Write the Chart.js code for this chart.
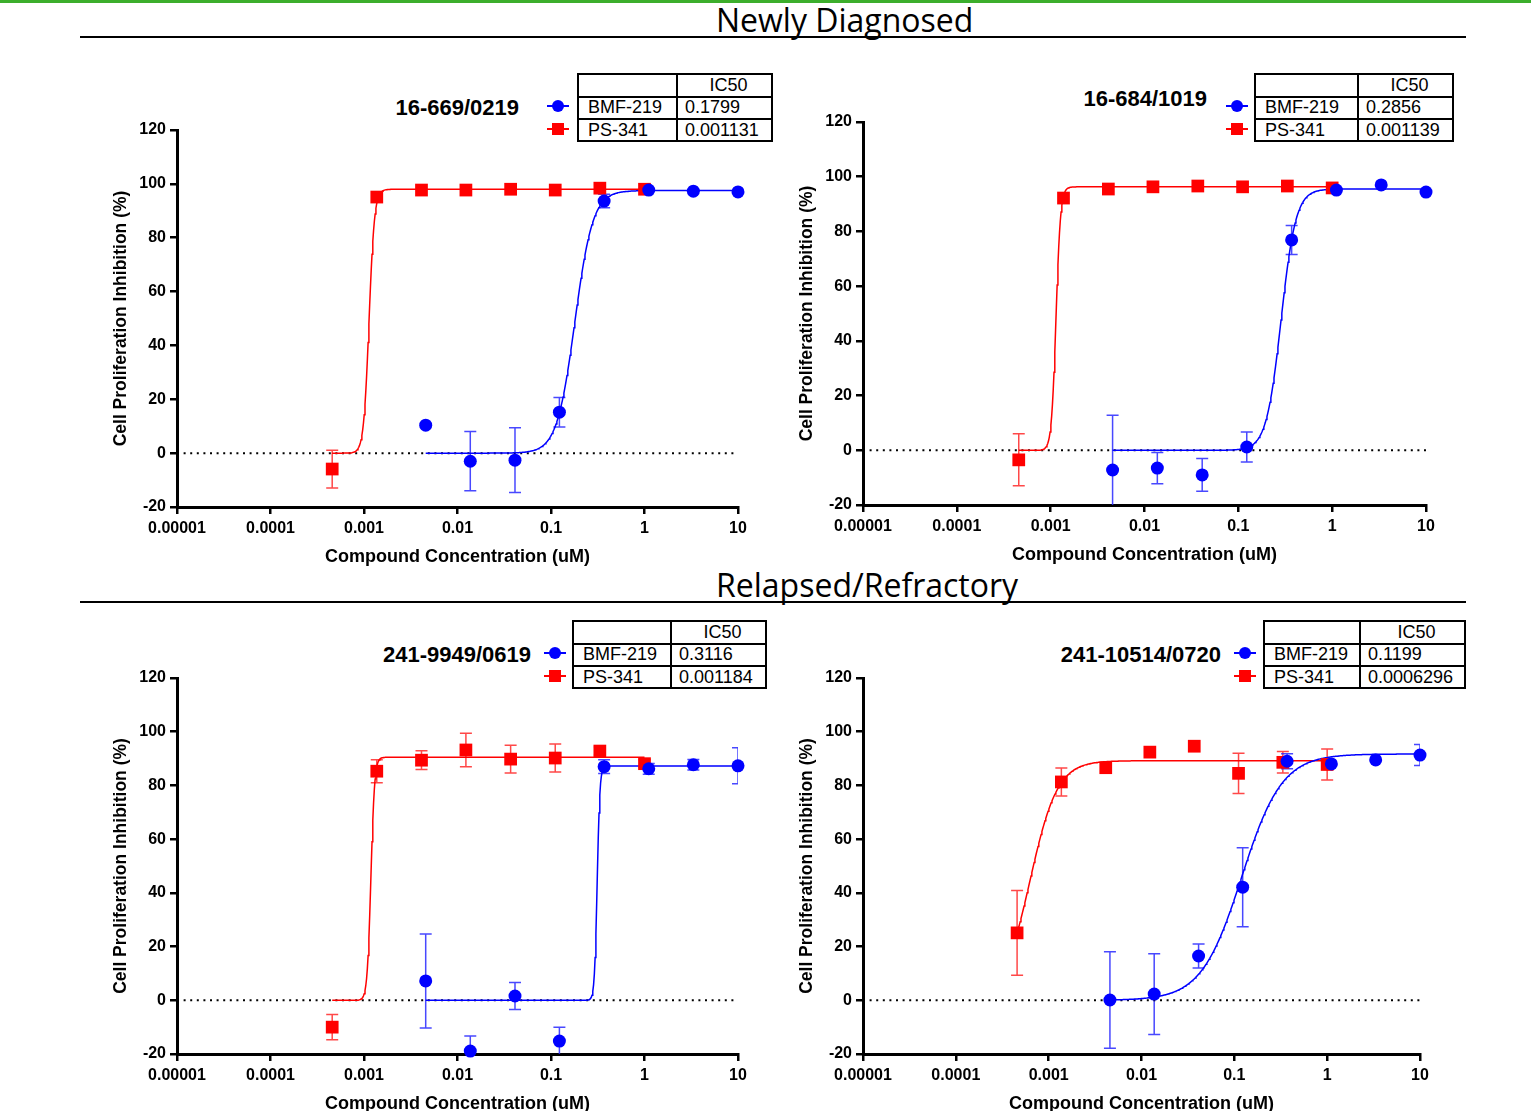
<!DOCTYPE html>
<html>
<head>
<meta charset="utf-8">
<script src="https://cdn.jsdelivr.net/npm/chart.js@4.4.1/dist/chart.umd.min.js"></script>
<style>
  html, body { margin:0; padding:0; background:#fff; }
  body { width:1531px; height:1111px; overflow:hidden; position:relative; font-family:"Liberation Sans", Arial, sans-serif; color:#000; }
  .greenbar { position:absolute; left:0; top:0; width:1531px; height:3px; background:#3cae2c; }
  .section { position:absolute; font-family:"Open Sans", "Noto Sans", sans-serif; font-size:32px; line-height:32px; white-space:nowrap; }
  .rule { position:absolute; height:2px; background:#000; }
  .ptitle { position:absolute; font-weight:bold; font-size:22px; line-height:22px; white-space:nowrap; text-align:right; width:260px; }
  canvas.panel { position:absolute; }
  .ic { position:absolute; border:2.5px solid #000; font-size:18px; box-sizing:border-box; }
  .ic .cell { position:absolute; line-height:20px; white-space:nowrap; }
  .ic .vl { position:absolute; top:0; bottom:0; width:1.5px; background:#000; }
  .ic .hl { position:absolute; left:0; right:0; height:1.5px; background:#000; }
  .lg { position:absolute; width:22px; height:12px; }
  .lg .ln { position:absolute; left:0; top:5px; width:22px; height:1.6px; }
  .lg .mk { position:absolute; left:5px; top:0; width:12px; height:12px; }
</style>
</head>
<body>
<div class="greenbar"></div>
<script>
// ---------------- DATA ----------------
const sections = ['Newly Diagnosed', 'Relapsed/Refractory'];
const sampleIds = ['16-669/0219', '16-684/1019', '241-9949/0619', '241-10514/0720'];
const compounds = ['BMF-219', 'PS-341'];
const ic50Header = 'IC50';
const bmfIC50Labels = ['0.1799', '0.2856', '0.3116', '0.1199'];
const psIC50Labels  = ['0.001131', '0.001139', '0.001184', '0.0006296'];

const xTickValues = [0.00001, 0.0001, 0.001, 0.01, 0.1, 1, 10];
const xTickLabels = ['0.00001', '0.0001', '0.001', '0.01', '0.1', '1', '10'];
const yMin = -20, yMax = 120, yStep = 20;
const xTitle = 'Compound Concentration (uM)';
const yTitle = 'Cell Proliferation Inhibition (%)';

// concentrations (uM)
const psConc  = [0.000457, 0.00137, 0.00412, 0.0123, 0.037, 0.111, 0.333, 1.0];
const bmfConc = [0.00457, 0.0137, 0.0412, 0.123, 0.37, 1.11, 3.33, 10.0];

// mean % inhibition and error (SD) per panel
const bmfMean1 = [10.4, -3.0, -2.6, 15.2, 93.6, 97.7, 97.3, 97.0];
const bmfErr1  = [0, 11, 12, 5.5, 2.5, 0, 0, 0];
const psMean1  = [-5.9, 95.1, 97.7, 97.7, 98.0, 97.7, 98.4, 98.0];
const psErr1   = [7, 0, 0, 0, 0, 0, 0, 0];

const bmfMean2 = [-7.2, -6.5, -9.0, 1.2, 76.9, 95.1, 97.0, 94.4];
const bmfErr2  = [20, 5.7, 6, 5.5, 5.3, 0, 0, 0];
const psMean2  = [-3.5, 92.2, 95.5, 96.3, 96.6, 96.3, 96.6, 95.9];
const psErr2   = [9.5, 0, 0, 0, 0, 0, 0, 0];

const bmfMean3 = [7.2, -18.9, 1.6, -15.2, 87.0, 86.2, 87.7, 87.3];
const bmfErr3  = [17.5, 5.6, 5, 5.2, 2.6, 2, 2, 6.7];
const psMean3  = [-10.0, 85.3, 89.4, 93.2, 89.8, 90.2, 92.8, 88.1];
const psErr3   = [4.7, 4.3, 3.5, 6.2, 5.2, 5.2, 1.5, 1.5];

const bmfMean4 = [0.1, 2.3, 16.5, 42.1, 89.0, 88.0, 89.5, 91.3];
const bmfErr4  = [18, 15, 4.5, 14.7, 2.8, 0, 0, 3.9];
const psMean4  = [25.1, 81.3, 86.6, 92.4, 94.6, 84.5, 88.6, 87.8];
const psErr4   = [15.8, 5.2, 0, 0, 0, 7.5, 4, 5.8];

// 4-parameter logistic fit parameters (bottom 0), IC50 from the tables
const bmfTop  = [97.5, 95.5, 87.2, 91.7];
const bmfHill = [4.5, 5.5, 30, 2.0];
const psTop   = [98.0, 96.3, 90.5, 89.2];
const psHill  = [15, 18, 22, 2.94];

const bmfMeans = [bmfMean1, bmfMean2, bmfMean3, bmfMean4];
const bmfErrs  = [bmfErr1, bmfErr2, bmfErr3, bmfErr4];
const psMeans  = [psMean1, psMean2, psMean3, psMean4];
const psErrs   = [psErr1, psErr2, psErr3, psErr4];

// ---------------- LAYOUT ----------------
const BLUE = '#0000ff', RED = '#ff0000';
const FONT = '"Liberation Sans", Arial, sans-serif';
const sectionLayout = [ {left:716, top:4, ruleY:36}, {left:716, top:569, ruleY:601} ];
const panelLayout = [
  { area:{l:177, r:738, t:130, b:507}, titleRight:519, titleCy:108, legendX:558,  table:{l:577,  t:73,  w1:99,  w2:97} },
  { area:{l:863, r:1426, t:122, b:505}, titleRight:1207, titleCy:99, legendX:1237, table:{l:1254, t:73,  w1:103, w2:97} },
  { area:{l:177, r:738, t:678, b:1054}, titleRight:531, titleCy:655, legendX:555,  table:{l:572,  t:620, w1:98,  w2:97} },
  { area:{l:863, r:1420, t:678, b:1054}, titleRight:1221, titleCy:655, legendX:1245, table:{l:1263, t:620, w1:96,  w2:107} }
];
const Y_AXIS_W = 90, X_AXIS_H = 75, PAD_T = 20, PAD_R = 35;
const TABLE_H = 69, ROW_Y = [0, 23, 45, 69];

// ---------------- HELPERS ----------------
function fitCurve(conc, ic50, top, hill) {
  const pts = [];
  const a = Math.log10(conc[0]), b = Math.log10(conc[conc.length - 1]);
  const n = 400;
  for (let i = 0; i <= n; i++) {
    const x = Math.pow(10, a + (b - a) * i / n);
    pts.push({x, y: top / (1 + Math.pow(ic50 / x, hill))});
  }
  return pts;
}
function toPts(conc, vals) { return conc.map((c, i) => ({x:c, y:vals[i]})); }

const errorBarPlugin = {
  id: 'errbars',
  beforeDatasetsDraw(chart) {
    const {ctx, chartArea, scales:{x, y}} = chart;
    ctx.save();
    ctx.beginPath();
    ctx.rect(chartArea.left, chartArea.top - 3, chartArea.right - chartArea.left, chartArea.bottom - chartArea.top + 3);
    ctx.clip();
    chart.data.datasets.forEach(ds => {
      if (!ds.errors) return;
      ctx.strokeStyle = ds.errorColor;
      ctx.lineWidth = 1.5;
      ds.data.forEach((p, i) => {
        const e = ds.errors[i];
        if (!e) return;
        const px = x.getPixelForValue(p.x);
        const y1 = y.getPixelForValue(p.y + e), y2 = y.getPixelForValue(p.y - e);
        ctx.beginPath();
        ctx.moveTo(px, y1); ctx.lineTo(px, y2);
        ctx.moveTo(px - 6, y1); ctx.lineTo(px + 6, y1);
        ctx.moveTo(px - 6, y2); ctx.lineTo(px + 6, y2);
        ctx.stroke();
      });
    });
    ctx.restore();
  }
};

function addEl(parent, cls, styles, text) {
  const d = document.createElement('div');
  d.className = cls;
  Object.assign(d.style, styles);
  if (text !== undefined) d.textContent = text;
  parent.appendChild(d);
  return d;
}

// ---------------- SECTIONS ----------------
sections.forEach((s, i) => {
  const L = sectionLayout[i];
  addEl(document.body, 'section', {left:L.left + 'px', top:L.top + 'px'}, s);
  addEl(document.body, 'rule', {left:'80px', width:'1386px', top:L.ruleY + 'px'});
});

// ---------------- PANELS ----------------
panelLayout.forEach((P, k) => {
  // title
  addEl(document.body, 'ptitle', {left:(P.titleRight - 260) + 'px', top:(P.titleCy - 11) + 'px'}, sampleIds[k]);

  // IC50 table
  const T = P.table;
  const tb = addEl(document.body, 'ic', {left:T.l + 'px', top:T.t + 'px', width:(T.w1 + T.w2) + 'px', height:TABLE_H + 'px'});
  addEl(tb, 'vl', {left:(T.w1 - 2) + 'px'});
  addEl(tb, 'hl', {top:(ROW_Y[1] - 2) + 'px'});
  addEl(tb, 'hl', {top:(ROW_Y[2] - 2) + 'px'});
  const rows = [['', ic50Header], [compounds[0], bmfIC50Labels[k]], [compounds[1], psIC50Labels[k]]];
  rows.forEach((r, ri) => {
    const cy = (ROW_Y[ri] + ROW_Y[ri + 1]) / 2 - 2;
    r.forEach((c, ci) => {
      if (!c) return;
      const st = {top:(cy - 10) + 'px'};
      if (ri === 0) { st.left = (T.w1 - 2) + 'px'; st.width = T.w2 + 'px'; st.textAlign = 'center'; st.paddingLeft = '8px'; st.boxSizing = 'border-box'; }
      else st.left = (ci === 0 ? 9 : T.w1 + 7) + 'px';
      addEl(tb, 'cell', st, c);
    });
  });

  // legend markers
  [[BLUE, '50%', 106 - 73], [RED, '0', 129 - 73]].forEach(([col, rad, dy]) => {
    const lg = addEl(document.body, 'lg', {left:(P.legendX - 11) + 'px', top:(T.t + dy - 6) + 'px'});
    addEl(lg, 'ln', {background:col});
    addEl(lg, 'mk', {background:col, borderRadius:rad});
  });

  // chart canvas
  const A = P.area;
  const cw = A.r - A.l + Y_AXIS_W + PAD_R;
  const ch = A.b - A.t + PAD_T + X_AXIS_H;
  const cv = document.createElement('canvas');
  cv.className = 'panel';
  cv.width = cw; cv.height = ch;
  cv.style.left = (A.l - Y_AXIS_W) + 'px'; cv.style.top = (A.t - PAD_T) + 'px';
  cv.style.width = cw + 'px'; cv.style.height = ch + 'px';
  document.body.appendChild(cv);

  const bmfIC50 = parseFloat(bmfIC50Labels[k]);
  const psIC50 = parseFloat(psIC50Labels[k]);

  new Chart(cv.getContext('2d'), {
    type: 'scatter',
    data: {
      datasets: [
        { label:'zero', data:[{x:xTickValues[0], y:0}, {x:xTickValues[xTickValues.length - 1], y:0}],
          showLine:true, borderColor:'#000', borderWidth:2, borderDash:[2, 4.6], pointRadius:0, order:6, clip:false },
        { label:compounds[1] + ' fit', data:fitCurve(psConc, psIC50, psTop[k], psHill[k]),
          showLine:true, borderColor:RED, borderWidth:1.5, pointRadius:0, tension:0, order:5, clip:false },
        { label:compounds[0] + ' fit', data:fitCurve(bmfConc, bmfIC50, bmfTop[k], bmfHill[k]),
          showLine:true, borderColor:BLUE, borderWidth:1.5, pointRadius:0, tension:0, order:4, clip:false },
        { label:compounds[1], data:toPts(psConc, psMeans[k]), errors:psErrs[k], errorColor:'rgba(255,40,40,0.85)',
          showLine:false, pointStyle:'rect', pointRadius:9, backgroundColor:RED, borderColor:RED, borderWidth:0, order:3, clip:false },
        { label:compounds[0], data:toPts(bmfConc, bmfMeans[k]), errors:bmfErrs[k], errorColor:'rgba(40,40,255,0.85)',
          showLine:false, pointStyle:'circle', pointRadius:6.5, backgroundColor:BLUE, borderColor:BLUE, borderWidth:0, order:2, clip:false }
      ]
    },
    options: {
      responsive:false, animation:false, devicePixelRatio:1,
      layout:{ padding:{ top:PAD_T, right:PAD_R, left:0, bottom:0 } },
      plugins:{ legend:{display:false}, tooltip:{enabled:false} },
      elements:{ point:{ hoverRadius:0 } },
      scales:{
        x:{
          type:'logarithmic', min:xTickValues[0], max:xTickValues[xTickValues.length - 1],
          afterBuildTicks(s){ s.ticks = xTickValues.map(v => ({value:v, major:false})); },
          afterFit(s){ s.height = X_AXIS_H; },
          ticks:{ callback:(v, i) => xTickLabels[i], color:'#000', font:{family:FONT, size:16, weight:'bold'}, padding:5, maxRotation:0, autoSkip:false },
          grid:{ drawOnChartArea:false, drawTicks:true, tickLength:7, lineWidth:2.5, color:'#000' },
          border:{ display:true, width:3, color:'#000' },
          title:{ display:true, text:xTitle, color:'#000', font:{family:FONT, size:18, weight:'bold'}, padding:{top:0, bottom:14} }
        },
        y:{
          min:yMin, max:yMax,
          afterFit(s){ s.width = Y_AXIS_W; },
          ticks:{ stepSize:yStep, color:'#000', font:{family:FONT, size:16, weight:'bold'}, padding:4 },
          grid:{ drawOnChartArea:false, drawTicks:true, tickLength:7, lineWidth:2.5, color:'#000' },
          border:{ display:true, width:3, color:'#000' },
          title:{ display:true, text:yTitle, color:'#000', font:{family:FONT, size:17.5, weight:'bold'}, padding:{top:24, bottom:0} }
        }
      }
    },
    plugins:[errorBarPlugin]
  });
});
</script>
</body>
</html>
